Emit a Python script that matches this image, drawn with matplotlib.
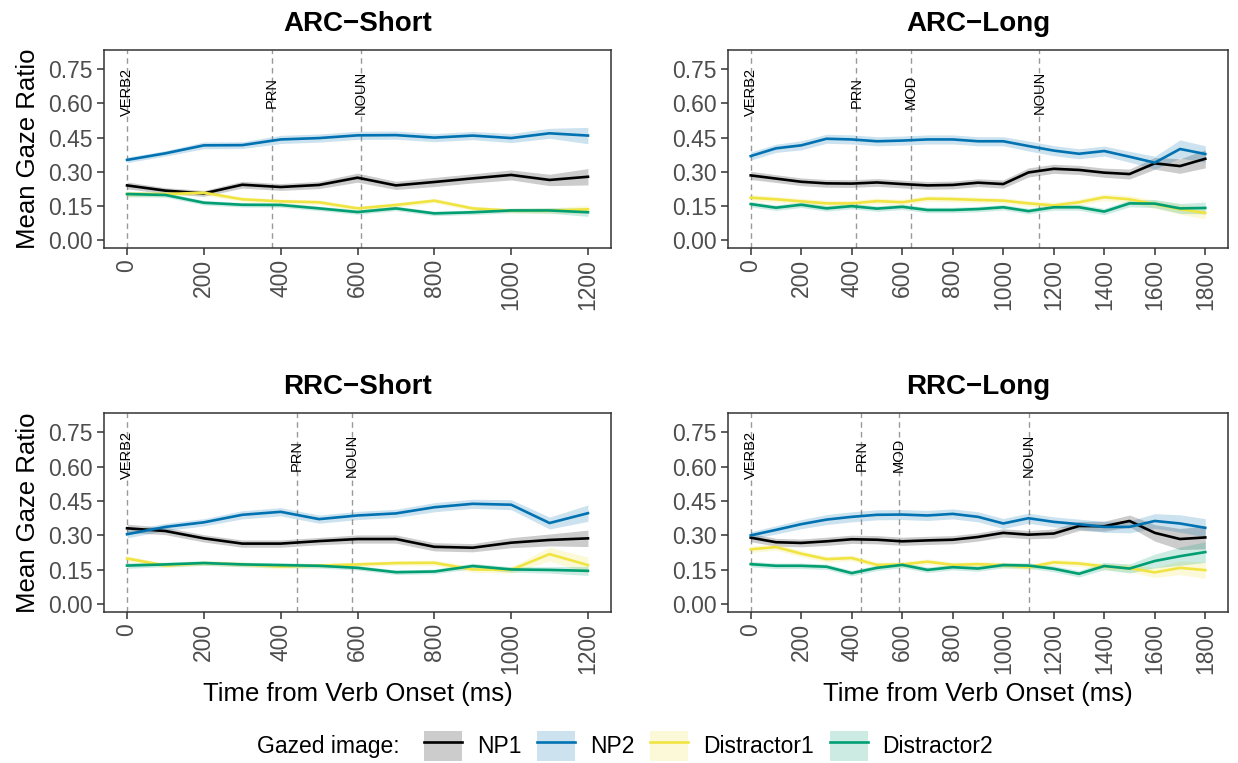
import matplotlib
matplotlib.use("Agg")
import matplotlib.pyplot as plt
from matplotlib.patches import Patch
from matplotlib.lines import Line2D

plt.rcParams['font.family'] = ['Liberation Sans', 'DejaVu Sans']

# tiempo desde el inicio del verbo (ms)
t_short = [0, 100, 200, 300, 400, 500, 600, 700, 800, 900, 1000, 1100, 1200]
t_long = [0, 100, 200, 300, 400, 500, 600, 700, 800, 900, 1000, 1100, 1200,
          1300, 1400, 1500, 1600, 1700, 1800]

# ARC-Short
arc_short_np1 = [0.240, 0.217, 0.205, 0.243, 0.233, 0.242, 0.274, 0.240, 0.255, 0.271, 0.286, 0.264, 0.278]
arc_short_np2 = [0.352, 0.381, 0.416, 0.417, 0.442, 0.448, 0.460, 0.461, 0.450, 0.459, 0.448, 0.469, 0.459]
arc_short_d1 = [0.202, 0.202, 0.208, 0.179, 0.170, 0.166, 0.139, 0.154, 0.173, 0.139, 0.129, 0.129, 0.135]
arc_short_d2 = [0.202, 0.198, 0.164, 0.155, 0.154, 0.139, 0.123, 0.139, 0.117, 0.122, 0.130, 0.130, 0.122]
arc_short_np1_se = [0.015, 0.013, 0.013, 0.015, 0.015, 0.016, 0.020, 0.018, 0.020, 0.020, 0.022, 0.025, 0.036]
arc_short_np2_se = [0.012, 0.012, 0.015, 0.015, 0.018, 0.018, 0.018, 0.018, 0.018, 0.018, 0.020, 0.022, 0.036]
arc_short_d1_se = [0.012, 0.010, 0.010, 0.010, 0.010, 0.010, 0.010, 0.010, 0.010, 0.010, 0.010, 0.012, 0.018]
arc_short_d2_se = [0.012, 0.010, 0.010, 0.010, 0.010, 0.010, 0.010, 0.010, 0.010, 0.010, 0.010, 0.012, 0.018]

# ARC-Long
arc_long_np1 = [0.284, 0.270, 0.256, 0.249, 0.248, 0.253, 0.246, 0.240, 0.242, 0.252, 0.246, 0.297, 0.313,
                0.308, 0.296, 0.290, 0.337, 0.325, 0.357]
arc_long_np2 = [0.369, 0.403, 0.416, 0.445, 0.442, 0.434, 0.437, 0.442, 0.442, 0.434, 0.434, 0.413, 0.393,
                0.379, 0.391, 0.366, 0.340, 0.400, 0.378]
arc_long_d1 = [0.186, 0.179, 0.170, 0.161, 0.161, 0.171, 0.166, 0.182, 0.180, 0.176, 0.173, 0.161, 0.152,
               0.166, 0.188, 0.179, 0.158, 0.135, 0.119]
arc_long_d2 = [0.158, 0.142, 0.155, 0.139, 0.149, 0.138, 0.146, 0.132, 0.132, 0.136, 0.144, 0.127, 0.144,
               0.144, 0.125, 0.161, 0.160, 0.139, 0.141]
arc_long_np1_se = [0.018, 0.017, 0.017, 0.017, 0.017, 0.017, 0.017, 0.017, 0.017, 0.017, 0.018, 0.020, 0.020,
                   0.020, 0.020, 0.022, 0.026, 0.032, 0.040]
arc_long_np2_se = [0.018, 0.018, 0.020, 0.020, 0.020, 0.020, 0.020, 0.020, 0.020, 0.020, 0.020, 0.022, 0.022,
                   0.022, 0.022, 0.024, 0.028, 0.040, 0.036]
arc_long_d1_se = [0.014, 0.013, 0.013, 0.013, 0.013, 0.013, 0.013, 0.013, 0.013, 0.013, 0.013, 0.013, 0.014,
                  0.014, 0.015, 0.016, 0.018, 0.022, 0.026]
arc_long_d2_se = [0.012, 0.012, 0.012, 0.012, 0.012, 0.012, 0.012, 0.012, 0.012, 0.012, 0.012, 0.012, 0.013,
                  0.013, 0.014, 0.015, 0.018, 0.022, 0.026]

# RRC-Short
rrc_short_np1 = [0.331, 0.319, 0.287, 0.264, 0.264, 0.275, 0.284, 0.284, 0.250, 0.246, 0.268, 0.280, 0.287]
rrc_short_np2 = [0.305, 0.337, 0.357, 0.390, 0.403, 0.371, 0.387, 0.396, 0.423, 0.438, 0.434, 0.354, 0.397]
rrc_short_d1 = [0.199, 0.168, 0.179, 0.173, 0.164, 0.168, 0.173, 0.179, 0.180, 0.151, 0.149, 0.218, 0.170]
rrc_short_d2 = [0.168, 0.173, 0.179, 0.173, 0.170, 0.167, 0.158, 0.139, 0.142, 0.166, 0.151, 0.149, 0.145]
rrc_short_np1_se = [0.018, 0.016, 0.016, 0.016, 0.016, 0.016, 0.018, 0.018, 0.018, 0.018, 0.022, 0.026, 0.036]
rrc_short_np2_se = [0.016, 0.016, 0.016, 0.018, 0.018, 0.018, 0.018, 0.018, 0.020, 0.020, 0.022, 0.026, 0.036]
rrc_short_d1_se = [0.012, 0.010, 0.010, 0.010, 0.010, 0.010, 0.010, 0.010, 0.012, 0.012, 0.014, 0.030, 0.035]
rrc_short_d2_se = [0.012, 0.010, 0.010, 0.010, 0.010, 0.010, 0.010, 0.010, 0.010, 0.012, 0.012, 0.014, 0.020]

# RRC-Long
rrc_long_np1 = [0.290, 0.270, 0.267, 0.274, 0.283, 0.281, 0.274, 0.278, 0.281, 0.293, 0.311, 0.303, 0.308,
                0.341, 0.340, 0.363, 0.311, 0.284, 0.291]
rrc_long_np2 = [0.300, 0.324, 0.349, 0.369, 0.381, 0.390, 0.391, 0.387, 0.394, 0.381, 0.352, 0.375, 0.359,
                0.349, 0.337, 0.337, 0.363, 0.352, 0.333]
rrc_long_d1 = [0.239, 0.249, 0.220, 0.196, 0.201, 0.171, 0.173, 0.185, 0.171, 0.174, 0.170, 0.161, 0.182,
               0.177, 0.164, 0.157, 0.138, 0.158, 0.148]
rrc_long_d2 = [0.174, 0.167, 0.167, 0.163, 0.135, 0.158, 0.171, 0.149, 0.161, 0.155, 0.170, 0.168, 0.154,
               0.132, 0.166, 0.155, 0.188, 0.209, 0.227]
rrc_long_np1_se = [0.018, 0.017, 0.017, 0.018, 0.018, 0.018, 0.018, 0.018, 0.018, 0.018, 0.018, 0.018, 0.020,
                   0.020, 0.022, 0.026, 0.036, 0.046, 0.050]
rrc_long_np2_se = [0.016, 0.018, 0.020, 0.022, 0.022, 0.022, 0.022, 0.022, 0.022, 0.022, 0.022, 0.022, 0.022,
                   0.022, 0.024, 0.026, 0.032, 0.038, 0.040]
rrc_long_d1_se = [0.014, 0.014, 0.014, 0.013, 0.013, 0.012, 0.012, 0.012, 0.012, 0.012, 0.012, 0.012, 0.013,
                  0.013, 0.014, 0.016, 0.022, 0.030, 0.036]
rrc_long_d2_se = [0.012, 0.012, 0.012, 0.012, 0.012, 0.012, 0.012, 0.012, 0.012, 0.012, 0.012, 0.012, 0.013,
                  0.014, 0.016, 0.020, 0.030, 0.040, 0.045]

# marcas de las regiones de la frase (ms)
arc_short_marks = [("VERB2", 0), ("PRN", 377), ("NOUN", 609)]
arc_long_marks = [("VERB2", 0), ("PRN", 418), ("MOD", 635), ("NOUN", 1143)]
rrc_short_marks = [("VERB2", 0), ("PRN", 443), ("NOUN", 585)]
rrc_long_marks = [("VERB2", 0), ("PRN", 438), ("MOD", 586), ("NOUN", 1100)]

labels = ["NP1", "NP2", "Distractor1", "Distractor2"]
colores = ["#000000", "#0072B2", "#F0E442", "#009E73"]

W, H = 1238, 763
fig = plt.figure(figsize=(W / 100, H / 100), dpi=100)


def caja(left, top, right, bottom):
    return [left / W, 1 - bottom / H, (right - left) / W, (bottom - top) / H]


paneles = [
    ("ARC\u2212Short", caja(104, 50, 611, 248), t_short,
     [arc_short_np1, arc_short_np2, arc_short_d1, arc_short_d2],
     [arc_short_np1_se, arc_short_np2_se, arc_short_d1_se, arc_short_d2_se],
     arc_short_marks, True, False),
    ("ARC\u2212Long", caja(728, 50, 1228, 248), t_long,
     [arc_long_np1, arc_long_np2, arc_long_d1, arc_long_d2],
     [arc_long_np1_se, arc_long_np2_se, arc_long_d1_se, arc_long_d2_se],
     arc_long_marks, False, False),
    ("RRC\u2212Short", caja(104, 413, 611, 612), t_short,
     [rrc_short_np1, rrc_short_np2, rrc_short_d1, rrc_short_d2],
     [rrc_short_np1_se, rrc_short_np2_se, rrc_short_d1_se, rrc_short_d2_se],
     rrc_short_marks, True, True),
    ("RRC\u2212Long", caja(728, 413, 1228, 612), t_long,
     [rrc_long_np1, rrc_long_np2, rrc_long_d1, rrc_long_d2],
     [rrc_long_np1_se, rrc_long_np2_se, rrc_long_d1_se, rrc_long_d2_se],
     rrc_long_marks, False, True),
]

for titulo, pos, t, series, errores, marcas, con_ylabel, con_xlabel in paneles:
    ax = fig.add_axes(pos)
    for y, se, c in zip(series, errores, colores):
        lo = [a - b for a, b in zip(y, se)]
        hi = [a + b for a, b in zip(y, se)]
        ax.fill_between(t, lo, hi, color=c, alpha=0.2, linewidth=0, zorder=2)
        ax.plot(t, y, color=c, lw=1.9, zorder=3)
    for nombre, x in marcas:
        ax.axvline(x, color="#999999", ls=(0, (4, 3)), lw=1.0, zorder=1)
        ax.text(x, 0.65, nombre, rotation=90, ha="center", va="center",
                fontsize=10.5, color="black", zorder=4)
    tmax = t[-1]
    ax.set_xlim(-0.05 * tmax, 1.05 * tmax)
    ax.set_ylim(-0.035, 0.835)
    ax.set_yticks([0.0, 0.15, 0.30, 0.45, 0.60, 0.75])
    ax.set_yticklabels(["0.00", "0.15", "0.30", "0.45", "0.60", "0.75"])
    ax.set_xticks(list(range(0, tmax + 1, 200)))
    ax.tick_params(axis="both", direction="out", length=5, width=1.1,
                   color="#333333", labelcolor="#4D4D4D", labelsize=16.5, pad=3)
    ax.tick_params(axis="x", labelrotation=90)
    for s in ax.spines.values():
        s.set_color("#333333")
        s.set_linewidth(1.1)
    ax.set_title(titulo, fontsize=20, fontweight="bold", pad=14)
    if con_ylabel:
        ax.set_ylabel("Mean Gaze Ratio", fontsize=18.5, labelpad=6)
    if con_xlabel:
        ax.set_xlabel("Time from Verb Onset (ms)", fontsize=18.5, labelpad=6)

# leyenda comun
handles = [(Patch(facecolor=c, alpha=0.2, edgecolor="none"), Line2D([], [], color=c, lw=1.9))
           for c in colores]
fig.text(257 / W, 1 - 746 / H, "Gazed image:", fontsize=16.5, ha="left", va="center")
fig.legend(handles, labels, ncol=4, loc="center left", bbox_to_anchor=(424 / W, 1 - 746 / H),
           frameon=False, fontsize=16.5, handlelength=1.65, handleheight=1.65,
           handletextpad=0.65, columnspacing=0.7, borderpad=0, borderaxespad=0)

fig.savefig("out.png", dpi=100)
